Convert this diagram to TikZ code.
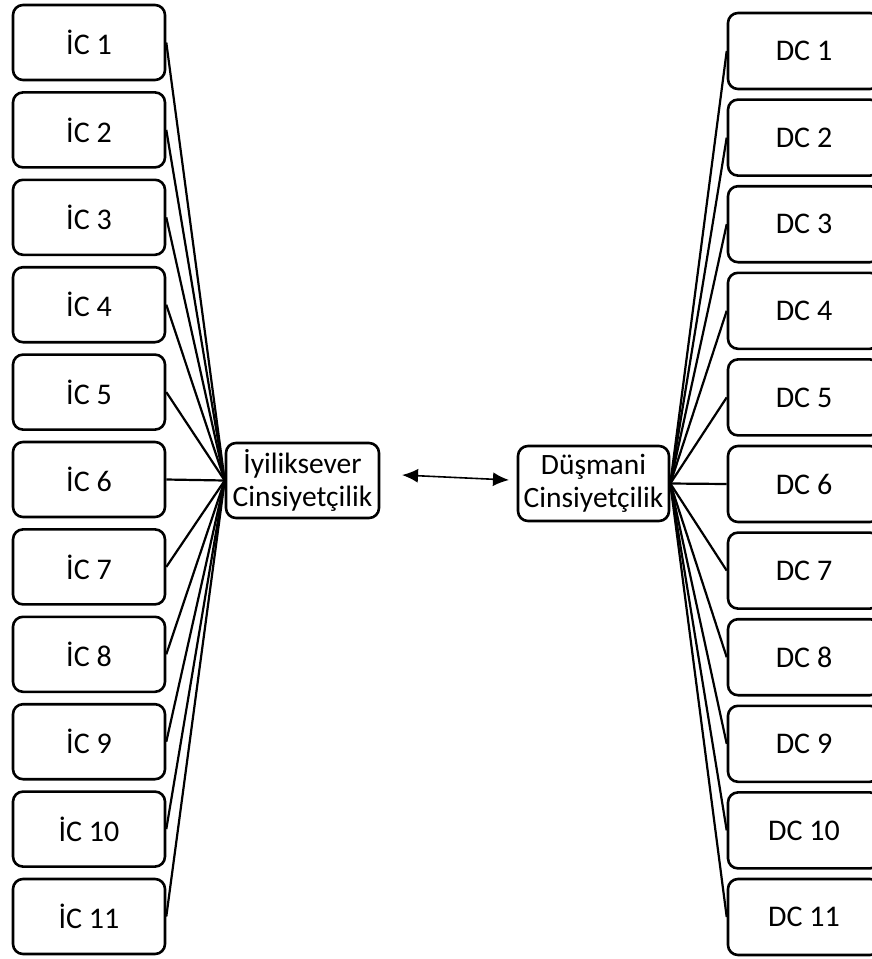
\documentclass[tikz,border=0pt]{standalone}
\usepackage{fontspec}
\setmainfont{Carlito}
\usetikzlibrary{arrows.meta}
\begin{document}
\begin{tikzpicture}[x=1pt,y=-1pt,
  itembox/.style={draw,line width=2.6pt,rounded corners=10pt,minimum width=152pt,minimum height=75pt,inner sep=0pt,align=center,font=\fontsize{30}{36}\selectfont},
  hubbox/.style={draw,line width=2.6pt,rounded corners=10pt,minimum width=153pt,minimum height=75pt,inner sep=0pt,align=center,font=\fontsize{29.5}{32.5}\selectfont},
  link/.style={line width=2.2pt},
  dual/.style={line width=1.6pt,{Latex[length=16pt,width=14pt]}-{Latex[length=16pt,width=14pt]}}]
\useasboundingbox (0,0) rectangle (872,959);
\clip (0,0) rectangle (872,959);
\node[hubbox] (ic) at (302.5,480.5) {İyiliksever\\Cinsiyetçilik};
\node[hubbox,minimum width=151pt] (dc) at (593.5,483.5) {Düşmani\\Cinsiyetçilik};
\foreach \k in {1,...,11}{
  \node[itembox] (l\k) at (89,{42.5+(\k-1)*87.4}) {İC \k};
  \node[itembox,minimum height=76pt] (r\k) at (804,{51+(\k-1)*86.6}) {DC \k};
  \draw[link] (l\k.east) -- (ic.west);
  \draw[link] (dc.east) -- (r\k.west);
}
\coordinate (aL) at (402,475);
\coordinate (aR) at (509,480);
\draw[dual] (aL) -- (aR);
\end{tikzpicture}
\end{document}
